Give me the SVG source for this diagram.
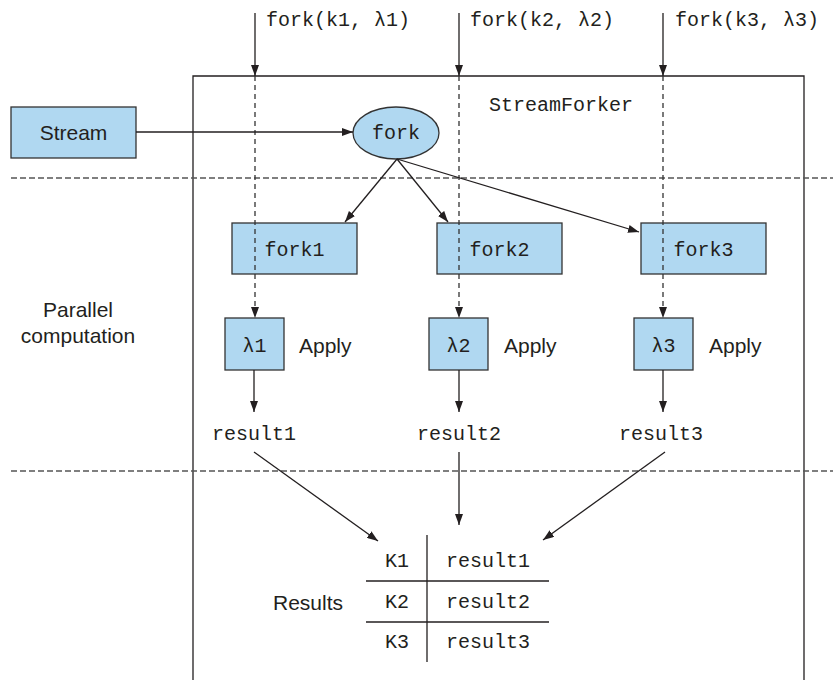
<svg xmlns="http://www.w3.org/2000/svg" width="833" height="680" viewBox="0 0 833 680">
<style>
.node{fill:#b0d8f1;stroke:#333;stroke-width:1.3}
.mono{font-family:"Liberation Mono","DejaVu Sans Mono",monospace;font-size:20px;fill:#231f20}
.sans{font-family:"Liberation Sans",Arial,sans-serif;font-size:21px;fill:#231f20}
.ln{stroke:#231f20;stroke-width:1.3;fill:none}
.dash{stroke:#333;stroke-width:1.3;fill:none;stroke-dasharray:5 4}
.hdash{stroke:#555;stroke-width:1.5;fill:none;stroke-dasharray:6 3}
</style>
<defs>
<marker id="ah" markerWidth="11" markerHeight="8" refX="11" refY="4" orient="auto" markerUnits="userSpaceOnUse">
<path d="M0,0 L11,4 L0,8 Z" fill="#231f20"/>
</marker>
</defs>
<rect width="833" height="680" fill="#fff"/>
<g id="frame">
<path class="ln" d="M193,680 V76 H804 V680"/>
<text class="mono" x="561" y="111" text-anchor="middle">StreamForker</text>
</g>
<g id="separators">
<line class="hdash" x1="11" y1="178" x2="833" y2="178"/>
<line class="hdash" x1="11" y1="471" x2="833" y2="471"/>
</g>
<g id="labels">
<text class="mono" x="266" y="26">fork(k1, λ1)</text>
<text class="mono" x="470" y="26">fork(k2, λ2)</text>
<text class="mono" x="675" y="26">fork(k3, λ3)</text>
<text class="sans" x="78" y="317" text-anchor="middle" font-size="20">Parallel</text>
<text class="sans" x="78" y="343" text-anchor="middle" font-size="20">computation</text>
</g>
<g id="stream"><rect class="node" x="11" y="107" width="125" height="51"/><text class="sans" x="73.5" y="140" text-anchor="middle">Stream</text></g>
<g id="fork"><ellipse class="node" cx="396" cy="133" rx="43" ry="26"/><text class="mono" x="396" y="139" text-anchor="middle">fork</text></g>
<g id="fork1"><rect class="node" x="232" y="223" width="125" height="51"/><text class="mono" x="294.5" y="256" text-anchor="middle">fork1</text></g>
<g id="fork2"><rect class="node" x="437" y="223" width="125" height="51"/><text class="mono" x="499.5" y="256" text-anchor="middle">fork2</text></g>
<g id="fork3"><rect class="node" x="641" y="223" width="125" height="51"/><text class="mono" x="703.5" y="256" text-anchor="middle">fork3</text></g>
<g id="lambda1"><rect class="node" x="225" y="318" width="59" height="52"/><text class="mono" x="254.5" y="352" text-anchor="middle" font-size="19">λ1</text><text class="sans" x="299" y="353">Apply</text></g>
<g id="lambda2"><rect class="node" x="429" y="318" width="59" height="52"/><text class="mono" x="458.5" y="352" text-anchor="middle" font-size="19">λ2</text><text class="sans" x="504" y="353">Apply</text></g>
<g id="lambda3"><rect class="node" x="634" y="318" width="59" height="52"/><text class="mono" x="663.5" y="352" text-anchor="middle" font-size="19">λ3</text><text class="sans" x="709" y="353">Apply</text></g>
<g id="result1"><text class="mono" x="254" y="440" text-anchor="middle">result1</text></g>
<g id="result2"><text class="mono" x="459" y="440" text-anchor="middle">result2</text></g>
<g id="result3"><text class="mono" x="661" y="440" text-anchor="middle">result3</text></g>
<g id="results">
<text class="sans" x="273" y="610">Results</text>
<line class="ln" x1="427" y1="535" x2="427" y2="662"/>
<line class="ln" x1="366" y1="581" x2="549" y2="581"/>
<line class="ln" x1="366" y1="622" x2="549" y2="622"/>
<text class="mono" x="397" y="567" text-anchor="middle">K1</text>
<text class="mono" x="397" y="608" text-anchor="middle">K2</text>
<text class="mono" x="397" y="648" text-anchor="middle">K3</text>
<text class="mono" x="446" y="567">result1</text>
<text class="mono" x="446" y="608">result2</text>
<text class="mono" x="446" y="648">result3</text>
</g>
<g id="connectors">
<line class="ln" x1="255" y1="13" x2="255" y2="76" marker-end="url(#ah)"/>
<line class="ln" x1="459" y1="13" x2="459" y2="76" marker-end="url(#ah)"/>
<line class="ln" x1="663" y1="13" x2="663" y2="76" marker-end="url(#ah)"/>
<line class="dash" x1="255" y1="76" x2="255" y2="318" marker-end="url(#ah)"/>
<line class="dash" x1="459" y1="76" x2="459" y2="318" marker-end="url(#ah)"/>
<line class="dash" x1="663" y1="76" x2="663" y2="318" marker-end="url(#ah)"/>
<line class="ln" x1="136" y1="132" x2="353" y2="132" marker-end="url(#ah)"/>
<line class="ln" x1="397" y1="159" x2="345" y2="222" marker-end="url(#ah)"/>
<line class="ln" x1="397" y1="159" x2="448" y2="222" marker-end="url(#ah)"/>
<line class="ln" x1="397" y1="159" x2="639" y2="232" marker-end="url(#ah)"/>
<line class="ln" x1="254" y1="370" x2="254" y2="412" marker-end="url(#ah)"/>
<line class="ln" x1="459" y1="370" x2="459" y2="412" marker-end="url(#ah)"/>
<line class="ln" x1="663" y1="370" x2="663" y2="412" marker-end="url(#ah)"/>
<line class="ln" x1="254" y1="452" x2="378" y2="541" marker-end="url(#ah)"/>
<line class="ln" x1="459" y1="452" x2="459" y2="525" marker-end="url(#ah)"/>
<line class="ln" x1="665" y1="452" x2="543" y2="540" marker-end="url(#ah)"/>
</g>
</svg>
